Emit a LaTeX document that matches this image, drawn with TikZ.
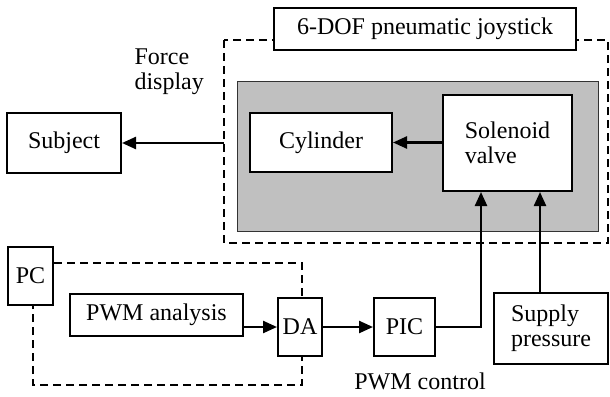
\documentclass[tikz,border=0pt]{standalone}
\usepackage{fontspec}
\setmainfont{Liberation Serif}
\usetikzlibrary{arrows.meta}
\begin{document}
\begin{tikzpicture}[x=1pt,y=-1pt,
  txt/.style={font=\fontsize{24}{25}\selectfont},
  box/.style={draw, line width=2pt, fill=white, inner sep=0pt, txt},
  dashbox/.style={draw, line width=2.2pt, dash pattern=on 8pt off 5pt},
  arr/.style={line width=2.4pt, -{Triangle[length=14pt,width=12pt]}},
  ln/.style={line width=2.4pt}]
\useasboundingbox (0,0) rectangle (610,396);
% dashed joystick enclosure
\draw[dashbox] (224,40) rectangle (608,243);
\node[box, minimum width=302pt, minimum height=42pt] (title) at (425,29) {6-DOF pneumatic joystick};
% gray panel
\draw[fill={rgb,255:red,192;green,192;blue,192}, draw=black!80, line width=1pt] (237,81) rectangle (598,231);
\node[box, minimum width=142pt, minimum height=59pt] (cyl) at (321,142.5) {Cylinder};
\node[box, minimum width=129pt, minimum height=96pt, align=left] (sol) at (507.5,143) {Solenoid\\valve};
\node[box, minimum width=114pt, minimum height=60pt] (subj) at (64,143) {Subject};
\node[txt, align=left, anchor=west] (fdisp) at (131,72) {Force\\display};
\coordinate (fd) at (224,143);
\draw[arr] (sol.west |- cyl.east) -- (cyl.east);
\draw[arr] (fd) -- (fd -| subj.east);
% PC enclosure
\node[box, minimum width=45pt, minimum height=58pt] (pc) at (30.5,276) {PC};
\coordinate (pctr) at (302,263);
\coordinate (pcbr) at (302,385);
\coordinate (pcbl) at (33,385);
\draw[dashbox] (pc.east |- pctr) -- (pctr) -- (pcbr) -- (pcbl) -- (pcbl |- pc.south);
\node[box, minimum width=173pt, minimum height=42pt] (pwm) at (156.5,315) {PWM analysis};
\node[box, minimum width=44pt, minimum height=58pt] (da) at (300,327) {DA};
\node[box, minimum width=61pt, minimum height=58pt] (pic) at (404.5,327) {PIC};
\node[box, minimum width=114pt, minimum height=71pt, align=left] (sup) at (551,328.5) {Supply\\pressure};
\node[txt] (pwmc) at (420,381) {PWM control};
\draw[arr] (pwm.east |- da.west) -- (da.west);
\draw[arr] (da.east) -- (pic.west);
\coordinate (vin1) at (481,327);
\coordinate (vin2) at (540,293);
\draw[arr] (pic.east) -- (vin1) -- (vin1 |- sol.south);
\draw[arr] (vin2) -- (vin2 |- sol.south);
\end{tikzpicture}
\end{document}
